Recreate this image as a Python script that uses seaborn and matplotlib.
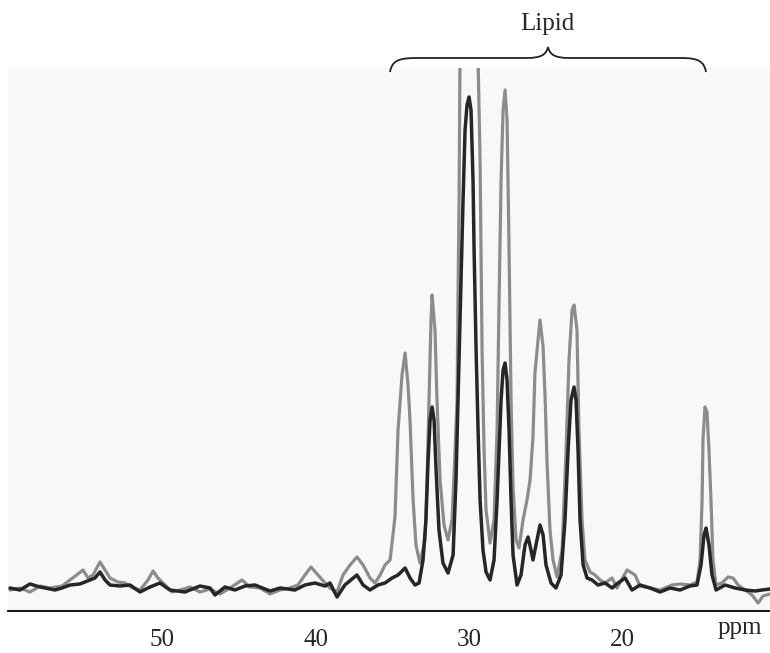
import pandas as pd
import matplotlib
matplotlib.use("Agg")
import matplotlib.pyplot as plt
from matplotlib.path import Path
from matplotlib.patches import PathPatch
import seaborn as sns

# gray spectrum (ppm, intensity)
gray_ppm = [59.94, 59.29, 58.64, 57.98, 57.33, 56.55, 56.03, 55.51, 55.18, 54.85,
            54.53, 54.07, 53.74, 53.42, 52.90, 52.44, 51.92, 51.46, 50.94, 50.61,
            50.29, 49.83, 49.37, 48.85, 48.20, 47.55, 46.89, 46.24, 45.59, 44.81,
            44.29, 43.63, 42.98, 42.33, 41.68, 41.16, 40.70, 40.31, 39.85, 39.39,
            39.07, 38.61, 38.22, 37.76, 37.31, 36.91, 36.46, 36.13, 35.80, 35.48,
            35.15, 34.83, 34.63, 34.37, 34.17, 33.98, 33.85, 33.65, 33.46, 33.20,
            32.87, 32.74, 32.61, 32.48, 32.41, 32.22, 32.09, 31.89, 31.63, 31.37,
            31.11, 30.91, 30.78, 30.72, 30.65, 30.59, 30.39, 30.20, 30.00, 29.80,
            29.61, 29.41, 29.28, 29.15, 29.02, 28.89, 28.63, 28.37, 28.17, 28.04,
            27.91, 27.78, 27.65, 27.52, 27.39, 27.26, 27.13, 26.93, 26.74, 26.48,
            26.22, 26.02, 25.83, 25.70, 25.50, 25.37, 25.17, 25.04, 24.91, 24.72,
            24.52, 24.26, 23.93, 23.67, 23.48, 23.28, 23.15, 22.96, 22.83, 22.63,
            22.44, 22.11, 21.78, 21.45, 21.13, 20.67, 20.35, 19.69, 19.17, 18.85,
            18.19, 17.54, 16.76, 16.24, 15.59, 15.13, 14.93, 14.80, 14.74, 14.61,
            14.48, 14.35, 14.22, 14.09, 13.89, 13.50, 13.11, 12.78, 12.45, 11.99,
            11.54, 11.15, 10.82, 10.37]
gray_int = [-2, 0, -4, 2, 0, 2, 8, 14, 18, 10,
            13, 26, 18, 10, 6, 5, 0, -2, 8, 17,
            10, 3, -4, -2, 1, -4, -1, -6, 0, 8,
            1, 0, -6, -2, 0, 3, 13, 21, 13, 5,
            0, -4, 13, 23, 31, 23, 10, 5, 13, 23,
            28, 71, 158, 213, 235, 203, 168, 88, 43, 25,
            48, 108, 188, 268, 293, 258, 188, 108, 63, 48,
            68, 138, 188, 288, 388, 528, 750, 880, 920, 880,
            750, 528, 428, 238, 138, 78, 45, 68, 158, 288,
            408, 478, 498, 468, 338, 188, 100, 48, 40, 68,
            88, 108, 151, 215, 248, 268, 241, 191, 125, 58,
            28, 11, 38, 138, 228, 278, 283, 258, 158, 68,
            28, 16, 13, 8, 5, 10, 0, 18, 13, 2,
            0, -2, 3, 4, 3, 6, 28, 88, 148, 181,
            176, 138, 88, 28, 3, 5, 11, 10, 3, -2,
            -7, -15, -8, -6]

# dark spectrum (ppm, intensity)
dark_ppm = [59.94, 59.29, 58.64, 57.98, 57.01, 56.55, 56.03, 55.38, 54.72, 54.40,
            54.07, 53.74, 53.42, 52.77, 52.11, 51.46, 50.81, 50.16, 49.51, 48.53,
            47.55, 46.89, 46.57, 45.92, 45.27, 44.61, 43.96, 42.98, 42.33, 41.35,
            40.70, 40.05, 39.39, 39.07, 38.61, 38.10, 37.31, 36.91, 36.46, 35.94,
            35.48, 35.02, 34.63, 34.17, 33.85, 33.52, 33.26, 33.00, 32.81, 32.67,
            32.54, 32.41, 32.28, 32.15, 31.96, 31.70, 31.37, 31.04, 30.85, 30.72,
            30.52, 30.39, 30.26, 30.13, 30.00, 29.87, 29.74, 29.67, 29.54, 29.41,
            29.28, 29.09, 28.89, 28.63, 28.37, 28.17, 28.04, 27.91, 27.78, 27.65,
            27.52, 27.39, 27.26, 27.13, 26.87, 26.61, 26.35, 26.15, 25.96, 25.83,
            25.63, 25.37, 25.17, 24.98, 24.65, 24.33, 24.00, 23.74, 23.54, 23.35,
            23.15, 23.02, 22.89, 22.76, 22.56, 22.30, 21.98, 21.59, 21.13, 20.67,
            20.28, 19.82, 19.37, 18.85, 18.19, 17.54, 16.89, 16.24, 15.59, 15.13,
            14.87, 14.67, 14.54, 14.35, 14.15, 13.89, 13.30, 12.65, 11.99, 11.35,
            10.89, 10.37]
dark_int = [0, -2, 4, 1, -2, 0, 3, 4, 8, 10,
            16, 8, 3, 2, 3, -4, 1, 5, -2, -4,
            2, 0, -7, 1, -2, 2, 3, -3, 0, -2,
            3, 5, 2, 5, -9, 3, 13, 3, -2, 3,
            5, 10, 13, 20, 10, 3, 5, 28, 68, 128,
            168, 181, 168, 118, 58, 25, 15, 33, 108, 188,
            308, 388, 458, 483, 491, 478, 408, 338, 238, 158,
            88, 38, 16, 8, 28, 88, 138, 188, 218, 225,
            208, 158, 88, 33, 3, 13, 43, 51, 38, 28,
            43, 63, 53, 23, 5, 0, 13, 68, 138, 188,
            201, 188, 138, 68, 23, 10, 8, 3, 5, 0,
            5, 10, -2, 3, 0, -4, 0, -2, 2, 3,
            23, 53, 60, 43, 13, -2, 3, 0, -2, -3,
            -2, -1]

ticks = [50, 40, 30, 20]

W, H = 770, 653
serif = ["Liberation Serif", "DejaVu Serif"]

sns.set_style("white")
plt.rcParams["font.family"] = serif

fig = plt.figure(figsize=(W / 100, H / 100), dpi=100)
ax = fig.add_axes([8 / W, 42 / H, 762 / W, 543 / H])
ax.set_facecolor("#f8f8f8")

gray_df = pd.DataFrame({"ppm": gray_ppm, "intensity": gray_int})
dark_df = pd.DataFrame({"ppm": dark_ppm, "intensity": dark_int})
sns.lineplot(data=gray_df, x="ppm", y="intensity", ax=ax, color="#8c8c8c",
             linewidth=2.3, estimator=None)
sns.lineplot(data=dark_df, x="ppm", y="intensity", ax=ax, color="#262626",
             linewidth=2.5, estimator=None)

ax.set_xlim(60.07, 10.37)
ax.set_ylim(-23, 520)
ax.set_xticks(ticks)
ax.set_xticklabels([str(t) for t in ticks], fontsize=18)
ax.set_yticks([])
ax.set_xlabel("")
ax.set_ylabel("")
ax.tick_params(axis="x", direction="out", length=8, width=1.3, color="black", pad=5)
for side in ["top", "left", "right"]:
    ax.spines[side].set_visible(False)
ax.spines["bottom"].set_linewidth(1.3)
ax.spines["bottom"].set_color("black")

fig.text(740 / W, 1 - 628 / H, "ppm", fontsize=18, ha="center", va="center")
fig.text(547 / W, 1 - 24 / H, "Lipid", fontsize=18, ha="center", va="center")

# curly brace over the lipid region
def px(x, y):
    return (x / W, 1 - y / H)

verts = [px(390, 72), px(392, 61), px(398, 58), px(416, 58),
         px(526, 58),
         px(541, 58), px(546, 55), px(548, 47),
         px(550, 55), px(555, 58), px(570, 58),
         px(681, 58),
         px(698, 58), px(704, 61), px(706, 72)]
codes = [Path.MOVETO, Path.CURVE4, Path.CURVE4, Path.CURVE4,
         Path.LINETO,
         Path.CURVE4, Path.CURVE4, Path.CURVE4,
         Path.CURVE4, Path.CURVE4, Path.CURVE4,
         Path.LINETO,
         Path.CURVE4, Path.CURVE4, Path.CURVE4]
brace = PathPatch(Path(verts, codes), transform=fig.transFigure,
                  fill=False, edgecolor="#222222", linewidth=1.3)
fig.patches.append(brace)

fig.savefig("out.png", dpi=100, facecolor="white")
